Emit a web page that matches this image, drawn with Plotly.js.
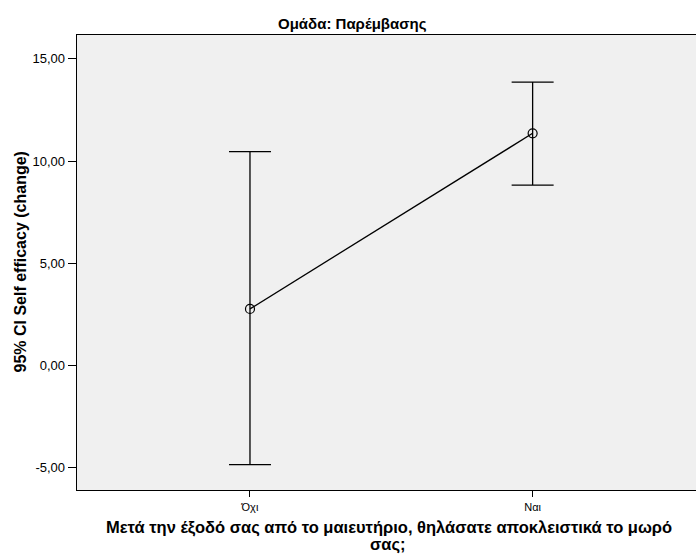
<!DOCTYPE html>
<html>
<head>
<meta charset="utf-8">
<script src="https://cdn.plot.ly/plotly-3.0.1.min.js"></script>
<style>html,body{margin:0;padding:0;overflow:hidden;background:#fff;}</style>
</head>
<body>
<div id="chart" style="width:696px;height:558px;"></div>
<script>
const categories = ["Όχι", "Ναι"];
const means = [2.77, 11.36];
const upperCI = [10.46, 13.86];
const lowerCI = [-4.85, 8.83];
const yTickVals = [-5, 0, 5, 10, 15];
const yTickText = ["-5,00", "0,00", "5,00", "10,00", "15,00"];
const xTitleLines = ["Μετά την έξοδό σας από το μαιευτήριο, θηλάσατε αποκλειστικά το μωρό", "σας;"];

const xIdx = categories.map((c, i) => i);
const trace = {
  x: xIdx,
  y: means,
  type: "scatter",
  mode: "lines+markers",
  line: {color: "#000", width: 1.3},
  marker: {symbol: "circle-open", size: 9, color: "#000", line: {width: 1.2, color: "#000"}},
  error_y: {
    type: "data",
    symmetric: false,
    array: upperCI.map((u, i) => u - means[i]),
    arrayminus: lowerCI.map((l, i) => means[i] - l),
    color: "#000",
    thickness: 1.3,
    width: 21
  },
  hoverinfo: "skip",
  showlegend: false
};

const layout = {
  width: 696,
  height: 558,
  margin: {l: 77, r: 0, t: 35, b: 68},
  paper_bgcolor: "#ffffff",
  plot_bgcolor: "#f0f0f0",
  font: {family: "Liberation Sans, Arial, sans-serif", color: "#000"},
  xaxis: {
    range: [-0.612, 1.578],
    tickvals: xIdx,
    ticktext: categories,
    ticks: "outside",
    ticklen: 6,
    tickcolor: "#000",
    tickfont: {size: 11},
    showgrid: false,
    zeroline: false,
    showline: true,
    linecolor: "#000",
    linewidth: 1.3,
    mirror: true
  },
  yaxis: {
    range: [-6.09, 16.17],
    tickvals: yTickVals,
    ticktext: yTickText,
    ticks: "outside",
    ticklen: 8,
    tickcolor: "#000",
    tickfont: {size: 13},
    showgrid: false,
    zeroline: false,
    showline: true,
    linecolor: "#000",
    linewidth: 1.3
  },
  annotations: [
    {
      text: "<b>Ομάδα: Παρέμβασης</b>",
      xref: "paper", yref: "paper",
      x: (352 - 77) / 619, y: 1 + (35 - 23) / 455,
      xanchor: "center", yanchor: "middle",
      showarrow: false, font: {size: 15}
    },
    {
      text: "<b>95% CI Self efficacy (change)</b>",
      xref: "paper", yref: "paper",
      x: (20 - 77) / 619, y: 0.5,
      xanchor: "center", yanchor: "middle",
      textangle: -90,
      showarrow: false, font: {size: 16}
    },
    {
      text: "<b>" + xTitleLines[0] + "</b>",
      xref: "paper", yref: "paper",
      x: (389 - 77) / 619, y: -(527 - 490) / 455,
      xanchor: "center", yanchor: "middle",
      showarrow: false, font: {size: 16.5}
    },
    {
      text: "<b>" + xTitleLines[1] + "</b>",
      xref: "paper", yref: "paper",
      x: (388 - 77) / 619, y: -(544 - 490) / 455,
      xanchor: "center", yanchor: "middle",
      showarrow: false, font: {size: 16.5}
    }
  ]
};

Plotly.newPlot("chart", [trace], layout, {displayModeBar: false, staticPlot: true});
</script>
</body>
</html>
